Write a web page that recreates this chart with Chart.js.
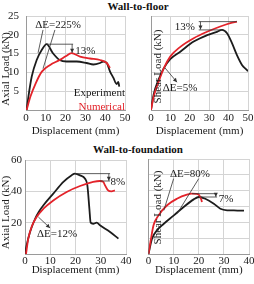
<!DOCTYPE html>
<html><head><meta charset="utf-8">
<script src="https://cdn.jsdelivr.net/npm/chart.js@4.4.0/dist/chart.umd.min.js"></script>
<style>
html,body{margin:0;padding:0;background:#fff;}
#wrap{position:relative;width:254px;height:284px;overflow:hidden;background:#fff;}
canvas{position:absolute;left:0;top:0;}
.ttl{position:absolute;font:bold 11px "Liberation Serif",serif;line-height:12px;color:#111;white-space:nowrap;transform:translateX(-50%);}
</style></head><body>
<div id="wrap">
<div class="ttl" style="left:138px;top:0px">Wall-to-floor</div>
<div class="ttl" style="left:138px;top:143px">Wall-to-foundation</div>
<canvas id="c1" width="254" height="284"></canvas>
<canvas id="c2" width="254" height="284"></canvas>
<canvas id="c3" width="254" height="284"></canvas>
<canvas id="c4" width="254" height="284"></canvas>
</div>
<script>
// ---- Data ----
const xTitle = 'Displacement (mm)';
const seriesNames = ['Experiment', 'Numerical'];

// Wall-to-floor, axial
const floorAxialExpX = [0.3, 1.2, 2.9, 5.4, 8, 10.4, 13.6, 17, 20.5, 25.6, 30.6, 34, 37.4, 39, 40.8, 42.4, 44.1, 45.8, 46.6, 47.1];
const floorAxialExpY = [0, 3.5, 8.9, 13.3, 16, 17.5, 15.1, 13.3, 12.9, 12.9, 12.5, 12.1, 12.5, 12.9, 12.5, 10.3, 8.6, 6.9, 7.5, 6.2];
const floorAxialNumX = [0.3, 2.2, 4.9, 8, 12.2, 17, 20, 23, 27.3, 32.3, 37.4, 40.8, 42.4];
const floorAxialNumY = [0, 3.5, 7.1, 10.2, 12, 13.3, 14.3, 15.1, 14.2, 13.7, 13.3, 12.5, 11.2];

// Wall-to-floor, shear
const floorShearExpX = [0, 1.4, 4, 6.5, 9.9, 15.1, 22, 28.9, 34, 36.6, 39.2, 41.8, 44.3, 46.9, 49.5, 50];
const floorShearExpY = [0, 4.2, 8.2, 11, 13.5, 15.5, 18.2, 19.9, 20.8, 21.3, 20.4, 17.7, 14.6, 12, 10.6, 10.3];
const floorShearNumX = [0, 1.4, 4, 6.5, 9.9, 15.1, 22, 28.9, 35.7, 40.9, 44.3];
const floorShearNumY = [0, 3.6, 7.6, 11, 14.2, 16.8, 19.1, 20.8, 22.2, 23.1, 23.5];

// Wall-to-foundation, axial
const foundAxialExpX = [0, 0.7, 2, 4, 5.5, 7.3, 11.2, 15.2, 18.5, 19.8, 21.8, 23.8, 24.7, 25.5, 26, 27, 28.4, 29.7, 33.7, 37];
const foundAxialExpY = [0, 6, 14, 22.5, 27, 31.1, 38.5, 46, 50.3, 51.3, 50.2, 48, 43.8, 28.9, 20, 19.3, 20, 18.3, 14, 9.8];
const foundAxialNumX = [0.4, 1.3, 2.6, 4.6, 7.3, 11.2, 16.5, 21.8, 27, 29.7, 31, 31.7, 32.7, 34.3, 35.6];
const foundAxialNumY = [0, 9.8, 17.2, 23.6, 28.9, 34.2, 39.6, 43.4, 46, 46.6, 46, 43.8, 41, 40, 40.6];

// Wall-to-foundation, shear
const foundShearExpX = [0, 1.4, 3.4, 6.1, 10.1, 14, 18, 20, 22.6, 26, 28.6, 31.3, 34, 37.3, 38];
const foundShearExpY = [0, 9.7, 15, 19.1, 24.4, 29.7, 34.5, 36, 34.9, 31.8, 28.6, 27.6, 27.5, 27.4, 27.4];
const foundShearNumX = [0, 1, 2, 4, 7.4, 11.3, 15.3, 17.3, 19, 20, 20.9, 21.3];
const foundShearNumY = [0, 9.7, 18.1, 24.4, 30.8, 34.9, 37.5, 38.1, 38, 37.5, 34.9, 32.8];

// ---- Styling ----
const RED = '#e3232a', BLACK = '#1c1c1c', GRID = '#d4d4d4', AXIS = '#9a9a9a', TXT = '#1a1a1a';
const FONT = {family: '"Liberation Serif", "Times New Roman", serif', size: 11};

const pts = (xs, ys) => xs.map((x, i) => ({x, y: ys[i]}));

const annot = {
  id: 'annot',
  afterDatasetsDraw(chart, args, opts) {
    const items = opts.items || [];
    const xs = chart.scales.x, ys = chart.scales.y, ctx = chart.ctx, ca = chart.chartArea;
    const X = v => xs.getPixelForValue(v), Y = v => ys.getPixelForValue(v);
    ctx.save();
    for (const it of items) {
      if (it.t === 'line' || it.t === 'arrow') {
        const x1 = X(it.x1), y1 = Y(it.y1), x2 = X(it.x2), y2 = Y(it.y2);
        ctx.strokeStyle = '#333'; ctx.lineWidth = 0.8;
        ctx.beginPath(); ctx.moveTo(x1, y1); ctx.lineTo(x2, y2); ctx.stroke();
        if (it.t === 'arrow') {
          const a = Math.atan2(y2 - y1, x2 - x1), L = 4, W = 2;
          ctx.fillStyle = '#333'; ctx.beginPath(); ctx.moveTo(x2, y2);
          ctx.lineTo(x2 - L * Math.cos(a) + W * Math.sin(a), y2 - L * Math.sin(a) - W * Math.cos(a));
          ctx.lineTo(x2 - L * Math.cos(a) - W * Math.sin(a), y2 - L * Math.sin(a) + W * Math.cos(a));
          ctx.closePath(); ctx.fill();
        }
      } else if (it.t === 'text') {
        ctx.font = FONT.size + 'px ' + FONT.family; ctx.fillStyle = it.color || TXT;
        ctx.textAlign = it.align || 'center'; ctx.textBaseline = 'middle';
        ctx.fillText(it.text, X(it.x), Y(it.y));
      } else if (it.t === 'vtitle') {
        ctx.font = FONT.size + 'px ' + FONT.family; ctx.fillStyle = TXT;
        ctx.textAlign = 'center'; ctx.textBaseline = 'middle';
        ctx.translate(ca.left + it.dx, (ca.top + ca.bottom) / 2 + it.dy);
        ctx.rotate(-Math.PI / 2);
        ctx.fillText(it.text, 0, 0);
        ctx.setTransform(1, 0, 0, 1, 0, 0);
      }
    }
    ctx.restore();
  }
};

function makeChart(id, o) {
  return new Chart(document.getElementById(id), {
    type: 'line',
    data: {datasets: [
      {label: seriesNames[1], data: pts(o.numX, o.numY), borderColor: RED, borderWidth: 1.8, pointRadius: 0, fill: false, cubicInterpolationMode: 'monotone'},
      {label: seriesNames[0], data: pts(o.expX, o.expY), borderColor: BLACK, borderWidth: 1.8, pointRadius: 0, fill: false, cubicInterpolationMode: 'monotone'}
    ]},
    options: {
      responsive: false, animation: false, events: [],
      layout: {padding: {left: o.pl, right: o.pr, top: o.pt, bottom: o.pb}},
      plugins: {legend: {display: false}, tooltip: {enabled: false}, annot: {items: o.items}},
      scales: {
        x: {type: 'linear', min: 0, max: o.xMax,
            ticks: {stepSize: 10, padding: o.xtp, font: FONT, color: TXT, maxRotation: 0, autoSkip: false},
            grid: {color: GRID, drawTicks: false}, border: {color: AXIS},
            title: {display: true, text: xTitle, font: FONT, color: TXT, padding: {top: 0, bottom: o.xtb}},
            afterFit: s => { s.height = o.xh; s.paddingLeft = 0; s.paddingRight = 0; }},
        y: {type: 'linear', min: 0, max: o.yMax,
            ticks: {stepSize: o.yStep, display: o.yLabels, padding: o.ytp, font: FONT, color: TXT, callback: v => v === 0 ? '' : v},
            grid: {color: GRID, drawTicks: false}, border: {color: AXIS},
            title: {display: false},
            afterFit: s => { s.width = o.yw; s.paddingTop = 0; s.paddingBottom = 0; }}
      }
    },
    plugins: [annot]
  });
}

// Panel 1: Wall-to-floor axial
makeChart('c1', {
  expX: floorAxialExpX, expY: floorAxialExpY, numX: floorAxialNumX, numY: floorAxialNumY,
  xMax: 50, yMax: 25, yStep: 5, yLabels: true,
  pl: 0, pr: 129, pt: 16, pb: 142, xh: 32, yw: 26, xtp: 2, xtb: 4, ytp: 7,
  items: [
    {t: 'vtitle', text: 'Axial Load (kN)', dx: -20, dy: 6},
    {t: 'text', text: 'ΔE=225%', x: 16.2, y: 22.6},
    {t: 'line', x1: 8.6, y1: 21.3, x2: 6.1, y2: 15.2},
    {t: 'line', x1: 14.6, y1: 21.3, x2: 8.6, y2: 11.0},
    {t: 'line', x1: 10.4, y1: 17.5, x2: 23.8, y2: 17.5},
    {t: 'arrow', x1: 23.3, y1: 17.5, x2: 23.3, y2: 15.2},
    {t: 'text', text: '13%', x: 30, y: 15.6},
    {t: 'text', text: seriesNames[0], x: 50, y: 4.5, align: 'right'},
    {t: 'text', text: seriesNames[1], x: 50, y: 0.9, align: 'right', color: RED}
  ]
});

// Panel 2: Wall-to-floor shear
makeChart('c2', {
  expX: floorShearExpX, expY: floorShearExpY, numX: floorShearNumX, numY: floorShearNumY,
  xMax: 50, yMax: 25, yStep: 5, yLabels: false,
  pl: 127, pr: 6, pt: 16, pb: 142, xh: 32, yw: 24, xtp: 2, xtb: 4, ytp: 0,
  items: [
    {t: 'vtitle', text: 'Shear Load (kN)', dx: 7.5, dy: 3.5},
    {t: 'line', x1: 24.6, y1: 23.5, x2: 44.3, y2: 23.5},
    {t: 'line', x1: 24.6, y1: 21.3, x2: 36.6, y2: 21.3},
    {t: 'arrow', x1: 25.5, y1: 23.5, x2: 25.5, y2: 21.4},
    {t: 'text', text: '13%', x: 17.5, y: 22.1},
    {t: 'arrow', x1: 7.2, y1: 11.2, x2: 13.4, y2: 7.4},
    {t: 'text', text: 'ΔE=5%', x: 15, y: 5.9}
  ]
});

// Panel 3: Wall-to-foundation axial
makeChart('c3', {
  expX: foundAxialExpX, expY: foundAxialExpY, numX: foundAxialNumX, numY: foundAxialNumY,
  xMax: 40, yMax: 60, yStep: 10, yLabels: true,
  pl: 0, pr: 128, pt: 160, pb: 0, xh: 30, yw: 25, xtp: 1, xtb: 7, ytp: 3,
  items: [
    {t: 'vtitle', text: 'Axial Load (kN)', dx: -19, dy: 5.5},
    {t: 'line', x1: 19.8, y1: 51.3, x2: 33.7, y2: 51.3},
    {t: 'line', x1: 29.7, y1: 46.6, x2: 33.7, y2: 46.6},
    {t: 'arrow', x1: 33.2, y1: 51.3, x2: 33.2, y2: 46.8},
    {t: 'text', text: '8%', x: 36.8, y: 46},
    {t: 'arrow', x1: 5.3, y1: 23.6, x2: 9.9, y2: 16.6},
    {t: 'text', text: 'ΔE=12%', x: 12.7, y: 12.8}
  ]
});

// Panel 4: Wall-to-foundation shear
makeChart('c4', {
  expX: foundShearExpX, expY: foundShearExpY, numX: foundShearNumX, numY: foundShearNumY,
  xMax: 40, yMax: 60, yStep: 10, yLabels: false,
  pl: 127, pr: 5, pt: 159, pb: 0, xh: 30, yw: 21.5, xtp: 1, xtb: 7, ytp: 0,
  items: [
    {t: 'vtitle', text: 'Shear Load (kN)', dx: 10, dy: 1},
    {t: 'text', text: 'ΔE=80%', x: 16.5, y: 50.5},
    {t: 'line', x1: 10, y1: 47.6, x2: 6.1, y2: 27.5},
    {t: 'line', x1: 20, y1: 47.6, x2: 11.4, y2: 25.5},
    {t: 'line', x1: 17.3, y1: 38.1, x2: 27.3, y2: 38.1},
    {t: 'line', x1: 20, y1: 36, x2: 27.3, y2: 36},
    {t: 'arrow', x1: 26.8, y1: 38.1, x2: 26.8, y2: 36.1},
    {t: 'text', text: '7%', x: 30.9, y: 34.7}
  ]
});
</script>
</body></html>
